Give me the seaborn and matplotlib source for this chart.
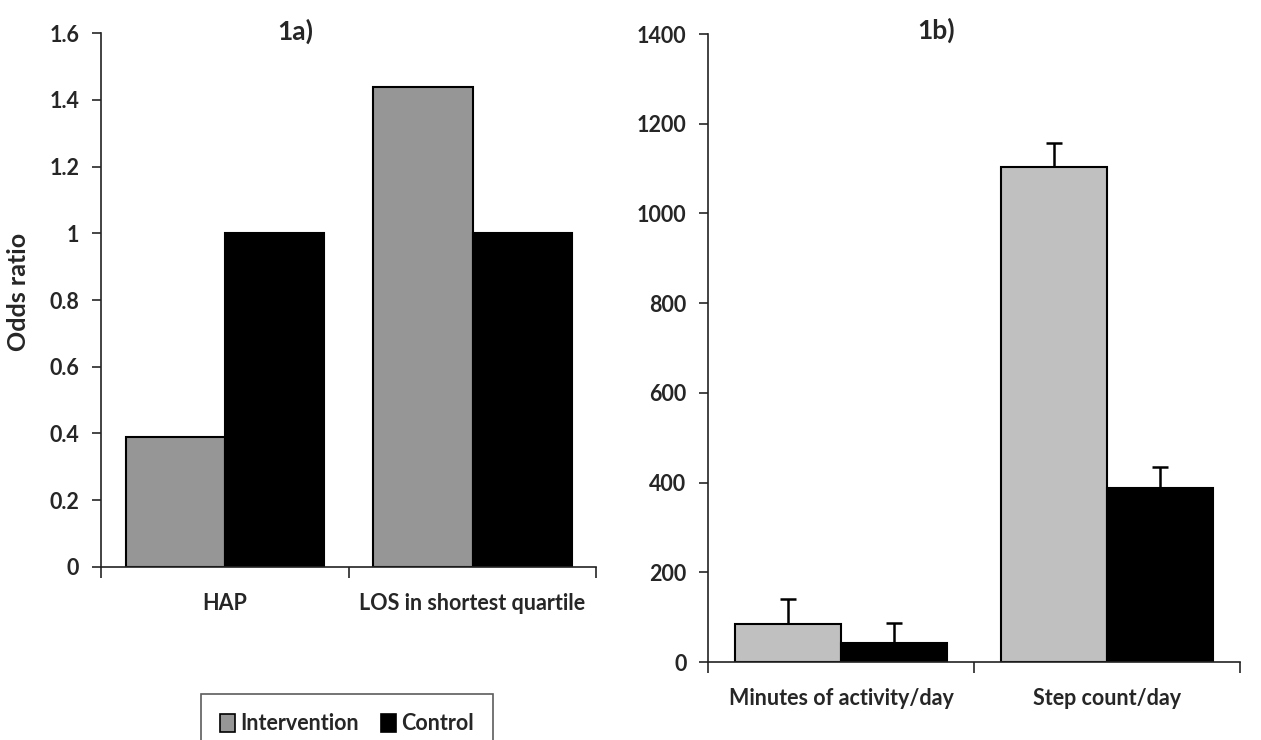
import matplotlib
matplotlib.use("Agg")
import matplotlib.pyplot as plt
from matplotlib.patches import Patch
from matplotlib.ticker import FuncFormatter
import numpy as np
import pandas as pd
import seaborn as sns

sns.set_style("ticks")
plt.rcParams['font.family'] = ['Lato', 'DejaVu Sans']

groups = ["Intervention", "Control"]

# 1a) odds ratios
odds_cats = ["HAP", "LOS in shortest quartile"]
odds_int = [0.39, 1.44]
odds_ctl = [1.0, 1.0]

# 1b) activity, with upper error bars
act_cats = ["Minutes of activity/day", "Step count/day"]
act_int = [84, 1104]
act_ctl = [42, 389]
act_int_err = [56, 52]
act_ctl_err = [44, 45]

left_colors = ["#969696", "#000000"]
right_colors = ["#c0c0c0", "#000000"]

df_a = pd.DataFrame({
    "cat": odds_cats * 2,
    "group": [groups[0]] * 2 + [groups[1]] * 2,
    "val": odds_int + odds_ctl,
})
df_b = pd.DataFrame({
    "cat": act_cats * 2,
    "group": [groups[0]] * 2 + [groups[1]] * 2,
    "val": act_int + act_ctl,
    "err": act_int_err + act_ctl_err,
})

fig = plt.figure(figsize=(12.61, 7.40), dpi=100)
ax1 = fig.add_axes([0.080, 0.234, 0.393, 0.721])
ax2 = fig.add_axes([0.5615, 0.1054, 0.4218, 0.8486])

sns.barplot(data=df_a, x="cat", y="val", hue="group", palette=left_colors,
            edgecolor="black", linewidth=1.5, ax=ax1, legend=False, errorbar=None)
sns.barplot(data=df_b, x="cat", y="val", hue="group", palette=right_colors,
            edgecolor="black", linewidth=1.5, ax=ax2, legend=False, errorbar=None)

# one-sided error bars on top of each bar in panel b (upper cap only)
for container, errs in zip(ax2.containers, [act_int_err, act_ctl_err]):
    for bar, e in zip(container, errs):
        xc = bar.get_x() + bar.get_width() / 2
        eb = ax2.errorbar(xc, bar.get_height(), yerr=[[0], [e]], fmt="none",
                          ecolor="black", elinewidth=1.8, capsize=6, capthick=1.8)
        eb.lines[1][0].set_visible(False)

tick_fs = 15.5
for ax, ymax, step in [(ax1, 1.6, 0.2), (ax2, 1400, 200)]:
    ax.set_xlim(-0.5, 1.5)
    ax.set_ylim(0, ymax)
    ax.set_yticks(np.arange(0, ymax + step / 2, step))
    ax.yaxis.set_major_formatter(FuncFormatter(lambda v, p: "%g" % round(v, 2)))
    ax.set_xticks([-0.5, 0.5, 1.5], minor=True)
    ax.tick_params(axis="x", which="major", length=0, pad=19, labelsize=tick_fs)
    ax.tick_params(axis="x", which="minor", length=8, width=1.2, direction="out")
    ax.tick_params(axis="y", length=6.5, width=1.2, pad=9, labelsize=tick_fs)
    for lab in ax.get_xticklabels() + ax.get_yticklabels():
        lab.set_fontweight("bold")
    ax.set_xlabel("")
    ax.set_ylabel("")
    for s in ["top", "right"]:
        ax.spines[s].set_visible(False)
    for s in ["left", "bottom"]:
        ax.spines[s].set_linewidth(1.2)
        ax.spines[s].set_color("#222222")

ax1.set_ylabel("Odds ratio", fontsize=18, fontweight="bold")
ax1.yaxis.set_label_coords(-0.143, 0.515)

fig.text(295 / 1261, 1 - 31 / 740, "1a)", fontsize=19, fontweight="bold",
         ha="center", va="center")
fig.text(936 / 1261, 1 - 30 / 740, "1b)", fontsize=19, fontweight="bold",
         ha="center", va="center")

handles = [Patch(facecolor=left_colors[0], edgecolor="black", linewidth=1.2),
           Patch(facecolor=left_colors[1], edgecolor="black", linewidth=1.2)]
leg = fig.legend(handles, groups, loc="upper center",
                 bbox_to_anchor=(347 / 1261, 1 - 694 / 740), ncol=2,
                 prop={"size": 15.5, "weight": "bold"}, frameon=True,
                 fancybox=False, handlelength=0.7, handleheight=0.9,
                 handletextpad=0.25, columnspacing=1.0, borderpad=0.9,
                 borderaxespad=0)
leg.get_frame().set_edgecolor("#333333")
leg.get_frame().set_linewidth(1.2)

fig.savefig("out.png", dpi=100)
